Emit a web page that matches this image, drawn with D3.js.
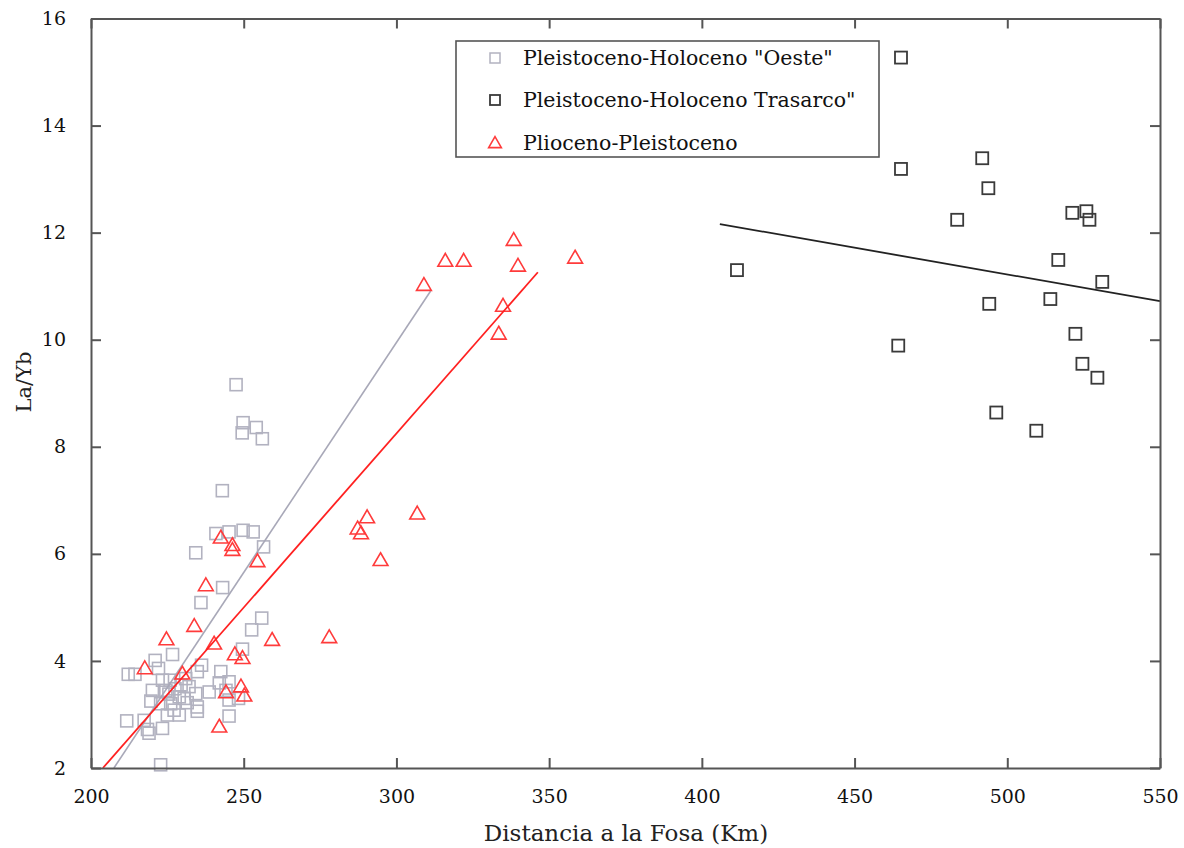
<!DOCTYPE html>
<html>
<head>
<meta charset="utf-8">
<script src="https://cdn.jsdelivr.net/npm/d3@7"></script>
<style>
  body { margin: 0; background: #fff; }
  svg { display: block; }
</style>
</head>
<body>
<svg width="1184" height="848"></svg>
<script>
// data: distance to trench (km) and La/Yb
var oesteX = [247.5, 249.8, 249.5, 254.1, 256.1, 243.0, 240.9, 245.2, 249.8, 253.1, 256.5, 234.3,
  243.1, 236.0, 255.9, 252.6, 249.6, 236.2, 226.7, 221.0, 222.1, 212.2, 214.4, 242.5, 223.4, 225.9,
  231.0, 234.8, 242.0, 245.2, 220.1, 224.5, 227.5, 232.1, 234.3, 238.7, 244.2, 248.3, 245.2, 219.6,
  222.8, 226.1, 228.9, 230.5, 227.2, 228.9, 225.0, 234.8, 234.8, 211.7, 217.4, 219.0, 218.5, 223.4,
  245.2, 222.8, 229.5, 225.5, 231.5];
var oesteY = [9.16, 8.45, 8.26, 8.36, 8.15, 7.18, 6.38, 6.41, 6.44, 6.41, 6.13, 6.02,
  5.37, 5.09, 4.80, 4.58, 4.22, 3.92, 4.12, 4.01, 3.86, 3.75, 3.75, 3.80, 3.64, 3.64,
  3.67, 3.80, 3.59, 3.61, 3.45, 3.45, 3.48, 3.52, 3.39, 3.42, 3.45, 3.30, 3.27, 3.25,
  3.20, 3.20, 3.33, 3.30, 3.08, 2.99, 2.99, 3.14, 3.06, 2.88, 2.89, 2.65, 2.72, 2.74,
  2.97, 2.06, 3.55, 3.38, 3.22];

var trasarcoX = [465.2, 465.2, 491.8, 493.8, 483.6, 521.3, 525.9, 526.9, 411.5, 516.7, 531.1,
  514.1, 494.1, 522.3, 464.3, 524.6, 529.5, 496.4, 509.5];
var trasarcoY = [15.27, 13.19, 13.39, 12.83, 12.24, 12.37, 12.40, 12.24, 11.30, 11.49, 11.08,
  10.76, 10.67, 10.11, 9.89, 9.55, 9.29, 8.64, 8.30];

var plioX = [309.0, 316.0, 322.0, 338.4, 339.8, 358.5, 334.9, 333.5, 290.4, 287.3, 288.4, 306.8,
  294.8, 278.0, 259.3, 242.5, 246.3, 246.3, 254.5, 237.6, 233.8, 224.7, 240.3, 247.1, 249.6,
  217.6, 229.9, 249.1, 244.2, 250.2, 242.0];
var plioY = [11.02, 11.47, 11.47, 11.86, 11.38, 11.53, 10.63, 10.11, 6.68, 6.47, 6.38, 6.75,
  5.88, 4.44, 4.39, 6.30, 6.16, 6.07, 5.86, 5.41, 4.65, 4.40, 4.32, 4.12, 4.05,
  3.86, 3.76, 3.52, 3.41, 3.35, 2.77];

// trend lines, end points
var oesteLine = [[207.5, 2.0], [311.2, 10.91]];
var plioLine = [[203.9, 2.0], [346.3, 11.26]];
var trasarcoLine = [[405.9, 12.16], [550, 10.72]];

var xTicks = [200, 250, 300, 350, 400, 450, 500, 550];
var yTicks = [2, 4, 6, 8, 10, 12, 14, 16];

var legendNames = ['Pleistoceno-Holoceno "Oeste"', 'Pleistoceno-Holoceno Trasarco"', 'Plioceno-Pleistoceno'];

var colOeste = '#b2b2c0';
var colTras = '#3a3a3a';
var colPlio = '#ff3b3b';
var serif = '"DejaVu Serif", serif';

var pLeft = 91, pRight = 1160, pTop = 18.5, pBottom = 768;

var x = d3.scaleLinear().domain([200, 550]).range([pLeft, pRight]);
var y = d3.scaleLinear().domain([2, 16]).range([pBottom, pTop]);

var svg = d3.select('svg');

function pts(xs, ys) {
  return xs.map(function(v, i) { return [v, ys[i]]; });
}

var line = d3.line().x(function(d) { return x(d[0]); }).y(function(d) { return y(d[1]); });

// markers
var sq = 12;
svg.append('g').selectAll('rect')
  .data(pts(oesteX, oesteY))
  .enter().append('rect')
  .attr('x', function(d) { return x(d[0]) - sq / 2; })
  .attr('y', function(d) { return y(d[1]) - sq / 2; })
  .attr('width', sq).attr('height', sq)
  .attr('fill', 'none')
  .attr('stroke', colOeste)
  .attr('stroke-width', 1.6);

svg.append('path').datum(oesteLine)
  .attr('d', line)
  .attr('stroke', '#a8a8b8').attr('stroke-width', 1.6).attr('fill', 'none');

var tri = d3.symbol().type(d3.symbolTriangle).size(95);
svg.append('g').selectAll('path')
  .data(pts(plioX, plioY))
  .enter().append('path')
  .attr('d', tri)
  .attr('transform', function(d) { return 'translate(' + x(d[0]) + ',' + (y(d[1]) + 1) + ')'; })
  .attr('fill', 'none')
  .attr('stroke', colPlio)
  .attr('stroke-width', 1.6);

svg.append('path').datum(plioLine)
  .attr('d', line)
  .attr('stroke', '#ff2020').attr('stroke-width', 1.8).attr('fill', 'none');

svg.append('g').selectAll('rect')
  .data(pts(trasarcoX, trasarcoY))
  .enter().append('rect')
  .attr('x', function(d) { return x(d[0]) - sq / 2; })
  .attr('y', function(d) { return y(d[1]) - sq / 2; })
  .attr('width', sq).attr('height', sq)
  .attr('fill', 'none')
  .attr('stroke', colTras)
  .attr('stroke-width', 1.8);

svg.append('path').datum(trasarcoLine)
  .attr('d', line)
  .attr('stroke', '#222').attr('stroke-width', 1.8).attr('fill', 'none');

// axes (ticks pointing inward on all four sides)
var axisCol = '#555';
var tk = 10;
var gB = svg.append('g').attr('transform', 'translate(0,' + pBottom + ')')
  .call(d3.axisBottom(x).tickValues(xTicks).tickSizeInner(-tk).tickSizeOuter(0).tickPadding(22));
var gT = svg.append('g').attr('transform', 'translate(0,' + pTop + ')')
  .call(d3.axisTop(x).tickValues(xTicks).tickSizeInner(-tk).tickSizeOuter(0).tickFormat(''));
var gL = svg.append('g').attr('transform', 'translate(' + pLeft + ',0)')
  .call(d3.axisLeft(y).tickValues(yTicks).tickSizeInner(-tk).tickSizeOuter(0).tickPadding(25));
var gR = svg.append('g').attr('transform', 'translate(' + pRight + ',0)')
  .call(d3.axisRight(y).tickValues(yTicks).tickSizeInner(-tk).tickSizeOuter(0).tickFormat(''));

[gB, gT, gL, gR].forEach(function(g) {
  g.select('.domain').attr('stroke', axisCol).attr('stroke-width', 2);
  g.selectAll('.tick line').attr('stroke', axisCol).attr('stroke-width', 2);
  g.selectAll('.tick text').attr('fill', '#111')
    .style('font-family', serif).style('font-size', '19px');
});

// axis titles
svg.append('text')
  .attr('x', 626).attr('y', 841)
  .attr('text-anchor', 'middle')
  .style('font-family', serif).style('font-size', '23px')
  .attr('fill', '#222')
  .text('Distancia a la Fosa (Km)');

svg.append('text')
  .attr('transform', 'translate(31,382) rotate(-90)')
  .attr('text-anchor', 'middle')
  .style('font-family', serif).style('font-size', '21px')
  .attr('fill', '#222')
  .text('La/Yb');

// legend
var lg = svg.append('g');
lg.append('rect')
  .attr('x', 456).attr('y', 41).attr('width', 423).attr('height', 116)
  .attr('fill', '#fff').attr('stroke', '#555').attr('stroke-width', 1.6);

var rowY = [58, 100, 143];
lg.append('rect').attr('x', 490).attr('y', rowY[0] - 5).attr('width', 10).attr('height', 10)
  .attr('fill', 'none').attr('stroke', colOeste).attr('stroke-width', 1.5);
lg.append('rect').attr('x', 490).attr('y', rowY[1] - 5).attr('width', 10).attr('height', 10)
  .attr('fill', 'none').attr('stroke', colTras).attr('stroke-width', 1.8);
lg.append('path').attr('d', d3.symbol().type(d3.symbolTriangle).size(70))
  .attr('transform', 'translate(495,' + (rowY[2] + 1) + ')')
  .attr('fill', 'none').attr('stroke', colPlio).attr('stroke-width', 1.6);

lg.selectAll('text.lab')
  .data(legendNames)
  .enter().append('text')
  .attr('class', 'lab')
  .attr('x', 523)
  .attr('y', function(d, i) { return rowY[i] + 7; })
  .style('font-family', serif).style('font-size', '20.5px')
  .attr('fill', '#111')
  .text(function(d) { return d; });
</script>
</body>
</html>
